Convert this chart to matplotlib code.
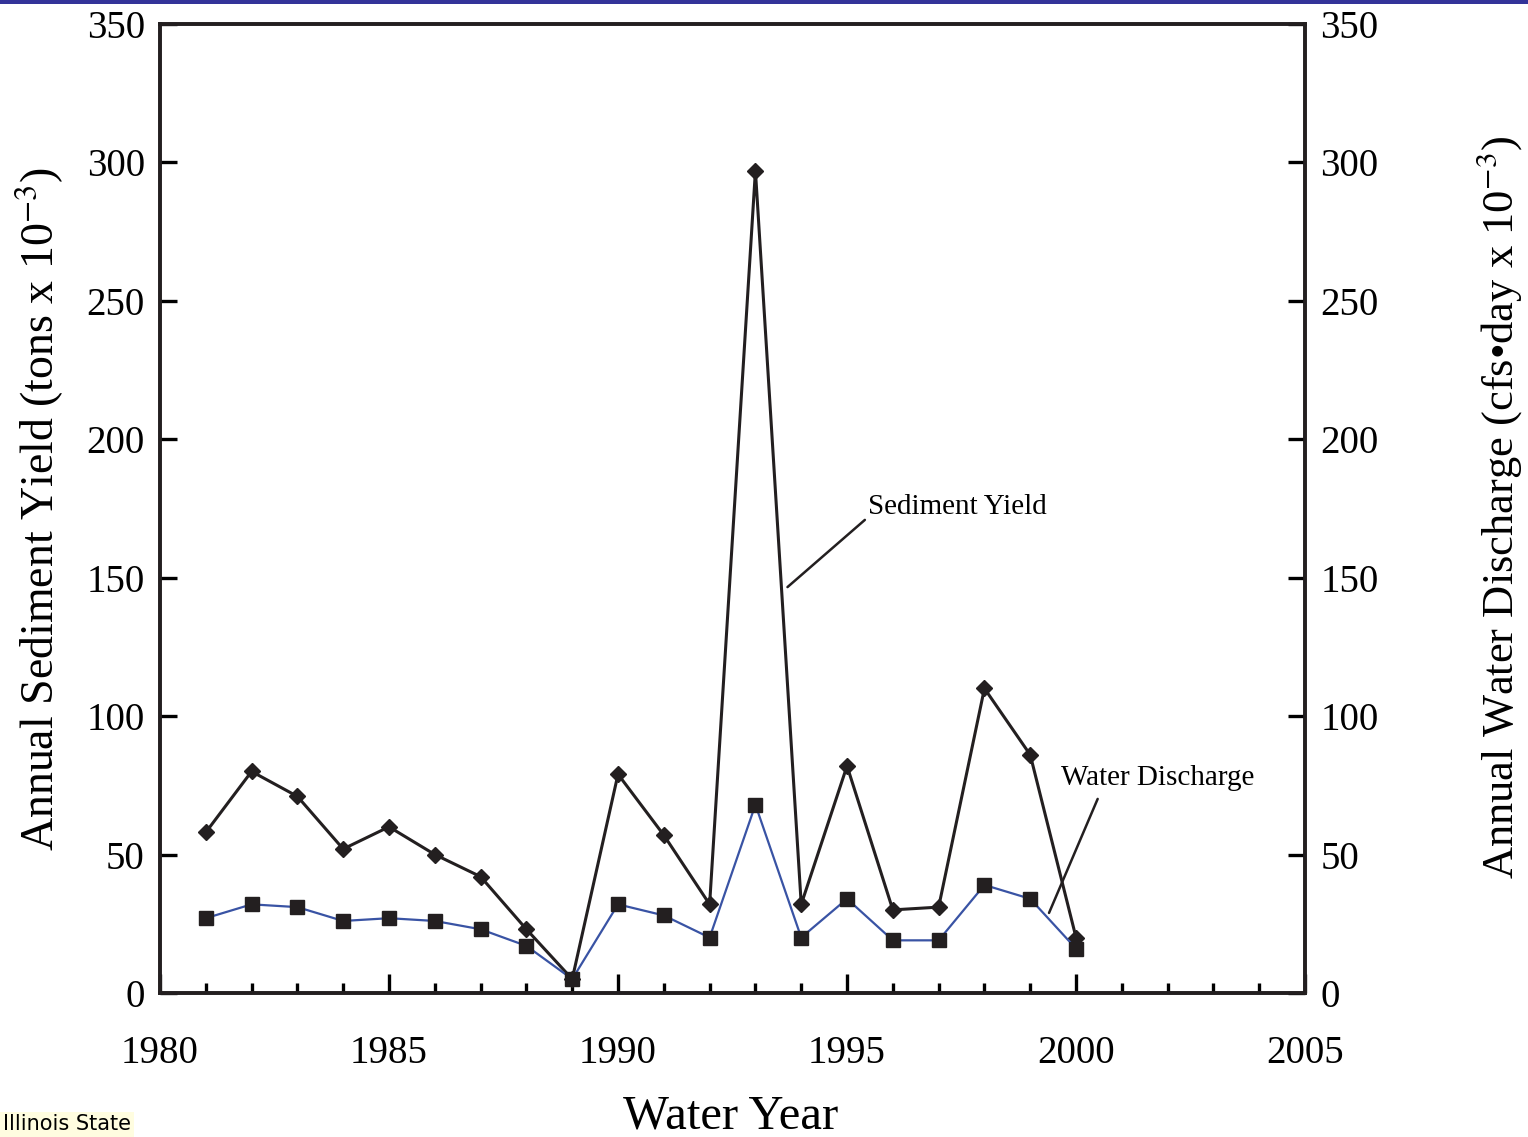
#!/usr/bin/env python3
#- Annual sediment yield and water discharge by water year

import matplotlib
matplotlib.use('Agg')
import matplotlib.pyplot as plt
from matplotlib.patches import Rectangle
from matplotlib.ticker import MultipleLocator

#- data

years = [1981, 1982, 1983, 1984, 1985, 1986, 1987, 1988, 1989, 1990,
         1991, 1992, 1993, 1994, 1995, 1996, 1997, 1998, 1999, 2000]
sediment = [58, 80, 71, 52, 60, 50, 42, 23, 5, 79,
            57, 32, 297, 32, 82, 30, 31, 110, 86, 20]
discharge = [27, 32, 31, 26, 27, 26, 23, 17, 5, 32,
             28, 20, 68, 20, 34, 19, 19, 39, 34, 16]

xticks = [1980, 1985, 1990, 1995, 2000, 2005]
yticks = [0, 50, 100, 150, 200, 250, 300, 350]

plt.rcParams['font.family'] = ['Liberation Serif', 'DejaVu Serif']
plt.rcParams['mathtext.fontset'] = 'stix'

fig = plt.figure(figsize=(15.28, 11.37), dpi=100)
ax = fig.add_axes([0.1047, 0.1267, 0.7494, 0.8522])
ax2 = ax.twinx()

#- series

ax.plot(years, sediment, color='#231f20', lw=2.2, marker='D', ms=8.5,
        mfc='#231f20', mec='#231f20', zorder=3)
ax2.plot(years, discharge, color='#3953a4', lw=1.6, marker='s', ms=10,
         mfc='#231f20', mec='#231f20', zorder=3)

#- axes

for a in (ax, ax2):
    a.set_xlim(1980, 2005)
    a.set_ylim(0, 350)
    for s in a.spines.values():
        s.set_linewidth(2.6)
        s.set_color('#231f20')

ax.set_xticks(xticks)
ax.set_yticks(yticks)
ax2.set_yticks(yticks)
ax.xaxis.set_minor_locator(MultipleLocator(1))
ax.tick_params(axis='x', which='major', direction='in', length=14, width=2.4,
               pad=30, labelsize=28, top=False)
ax.tick_params(axis='x', which='minor', direction='in', length=7.5, width=2.4,
               top=False)
ax.tick_params(axis='y', direction='in', length=12, width=2.4, pad=11,
               labelsize=28)
ax2.tick_params(axis='y', direction='in', length=12, width=2.4, pad=11,
                labelsize=28)

#- labels

fig.text(0.478, 0.018, 'Water Year', fontsize=35, ha='center', va='center')
fig.text(0.026, 0.552, 'Annual Sediment Yield (tons x 10$^{-3}$)',
         fontsize=33, rotation=90, ha='center', va='center')
fig.text(0.981, 0.554, 'Annual Water Discharge (cfs\u2022day x 10$^{-3}$)',
         fontsize=32, rotation=90, ha='center', va='center')

#- callouts

ax.annotate('Sediment Yield', xy=(1993.70, 146.6), xytext=(1995.45, 175.5),
            fontsize=21, va='center', ha='left',
            arrowprops=dict(arrowstyle='-', color='#231f20', lw=1.8,
                            shrinkA=0, shrinkB=0,
                            relpos=(0, 0.1)))
ax.annotate('Water Discharge', xy=(1999.41, 28.9), xytext=(1999.67, 77.6),
            fontsize=21, va='center', ha='left',
            arrowprops=dict(arrowstyle='-', color='#231f20', lw=1.8,
                            shrinkA=0, shrinkB=0,
                            relpos=(0.19, -0.3)))

#- page decoration

fig.patches.append(Rectangle((0, 0.9965), 1, 0.0035, transform=fig.transFigure,
                             facecolor='#333399', edgecolor='none'))
fig.text(0.002, 0.011, 'Illinois State', fontsize=15, family='DejaVu Sans',
         ha='left', va='center',
         bbox=dict(facecolor='#fffde0', edgecolor='none', pad=2))

fig.savefig('out.png', dpi=100)
